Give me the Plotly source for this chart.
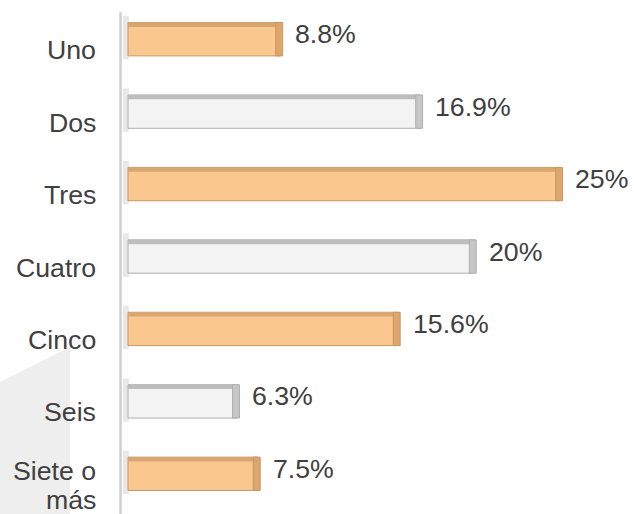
import plotly.graph_objects as go

categories = ["Uno", "Dos", "Tres", "Cuatro", "Cinco", "Seis", "Siete o más"]
values = [8.8, 16.9, 25, 20, 15.6, 6.3, 7.5]
value_labels = ["8.8%", "16.9%", "25%", "20%", "15.6%", "6.3%", "7.5%"]

W, H = 634, 514
ML, MR, MT, MB = 118, 0, 3, 4
PW = W - ML - MR
PH = H - MT - MB
SCALE = 17.28          # pixels per percentage point
X0 = -(128 - ML) / SCALE

def px(x):
    return (x - ML) / PW

def py(y):
    return (H - MB - y) / PH

is_orange = [i % 2 == 0 for i in range(len(categories))]
fills = ["#FAC78E" if o else "#F3F3F3" for o in is_orange]
edges = ["#C99660" if o else "#AFAFAF" for o in is_orange]
tops = ["#D8A672" if o else "#BDBDBD" for o in is_orange]
caps = ["#DDA66C" if o else "#C6C6C6" for o in is_orange]

BW = 0.46
fig = go.Figure()
# soft shadow at left of each bar
fig.add_trace(go.Bar(
    y=categories, x=[0.35] * len(values), base=[-0.3] * len(values), orientation="h",
    width=0.6, offset=-0.32, marker=dict(color="rgba(150,150,150,0.22)", line=dict(width=0)),
    hoverinfo="skip", showlegend=False,
))
# front face
fig.add_trace(go.Bar(
    y=categories, x=values, orientation="h", width=BW, offset=-BW / 2,
    marker=dict(color=fills, line=dict(color=edges, width=1)),
    hoverinfo="skip", showlegend=False,
))
# top face
fig.add_trace(go.Bar(
    y=categories, x=values, orientation="h", width=0.06, offset=-BW / 2,
    marker=dict(color=tops, line=dict(width=0)),
    hoverinfo="skip", showlegend=False,
))
# right side cap
fig.add_trace(go.Bar(
    y=categories, x=[0.4] * len(values), base=[v - 0.25 for v in values], orientation="h",
    width=BW, offset=-BW / 2,
    marker=dict(color=caps, line=dict(color=edges, width=1)),
    hoverinfo="skip", showlegend=False,
))

font = dict(family="Liberation Sans, Arial, sans-serif", size=26.7, color="#404040")

annotations = []
for c, v, t in zip(categories, values, value_labels):
    annotations.append(dict(x=v, y=c, xref="x", yref="y", text=t, showarrow=False,
                            xanchor="left", yanchor="middle", xshift=13, yshift=5, font=font))
    if c == "Siete o más":
        annotations.append(dict(x=px(98), y=c, xref="paper", yref="y", text="Siete o",
                                showarrow=False, xanchor="right", yanchor="middle", yshift=3, font=font))
        annotations.append(dict(x=px(98), y=c, xref="paper", yref="y", text="más",
                                showarrow=False, xanchor="right", yanchor="middle", yshift=-26, font=font))
    else:
        annotations.append(dict(x=px(98), y=c, xref="paper", yref="y", text=c,
                                showarrow=False, xanchor="right", yanchor="middle", yshift=-11, font=font))

shapes = [
    dict(type="path", xref="paper", yref="paper", layer="below",
         path=f"M {px(0)},{py(382)} L {px(70)},{py(347)} L {px(70)},{py(520)} L {px(0)},{py(520)} Z",
         fillcolor="#EEEEEE", line=dict(width=0)),
    dict(type="line", xref="paper", yref="paper", x0=px(120.5), x1=px(120.5), y0=py(12), y1=py(520),
         line=dict(color="#CFCFCF", width=2.5), layer="below"),
]

fig.update_layout(
    width=W, height=H,
    margin=dict(l=ML, r=MR, t=MT, b=MB),
    paper_bgcolor="white", plot_bgcolor="white",
    barmode="overlay",
    xaxis=dict(range=[X0, X0 + PW / SCALE], visible=False, fixedrange=True),
    yaxis=dict(autorange="reversed", showticklabels=False, showgrid=False, zeroline=False,
               showline=False, ticks="", fixedrange=True),
    annotations=annotations,
    shapes=shapes,
    showlegend=False,
)

fig.write_html("out.html", config={"displayModeBar": False},
               post_script="document.body.style.margin='0px';")
